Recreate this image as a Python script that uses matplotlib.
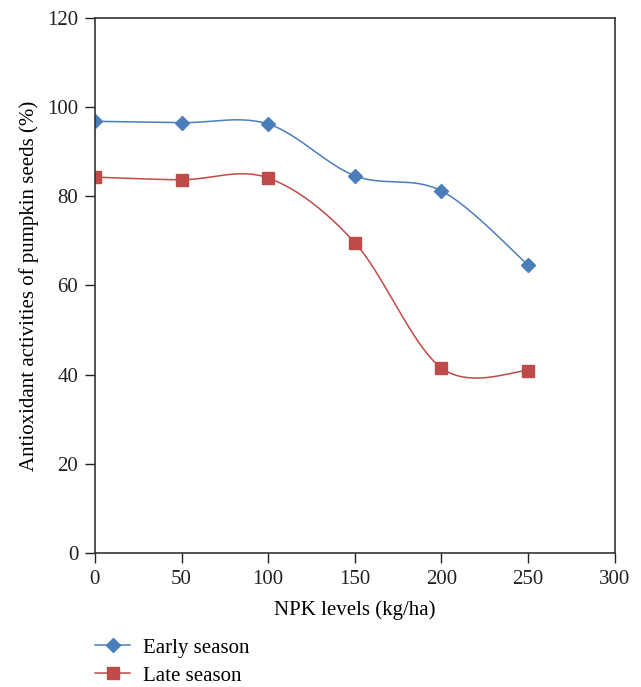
import numpy as np
import matplotlib.pyplot as plt
from matplotlib.lines import Line2D

npk = [0, 50, 100, 150, 200, 250]
early = [96.8, 96.5, 96.2, 84.6, 81.2, 64.6]
late = [84.3, 83.7, 84.1, 69.6, 41.5, 40.9]

plt.rcParams['font.family'] = ['Liberation Serif', 'DejaVu Serif']


def smooth(xs, ys, n=40):
    # excel style smoothing (catmull-rom, bezier control points at 1/6)
    xs = np.asarray(xs, float)
    ys = np.asarray(ys, float)
    px = np.concatenate([[xs[0]], xs, [xs[-1]]])
    py = np.concatenate([[ys[0]], ys, [ys[-1]]])
    outx, outy = [], []
    t = np.linspace(0, 1, n)
    for i in range(1, len(px) - 2):
        p0 = np.array([px[i], py[i]])
        p3 = np.array([px[i + 1], py[i + 1]])
        c1 = p0 + (p3 - np.array([px[i - 1], py[i - 1]])) / 6
        c2 = p3 - (np.array([px[i + 2], py[i + 2]]) - p0) / 6
        b = ((1 - t) ** 3)[:, None] * p0 + (3 * (1 - t) ** 2 * t)[:, None] * c1 \
            + (3 * (1 - t) * t ** 2)[:, None] * c2 + (t ** 3)[:, None] * p3
        outx.extend(b[:, 0])
        outy.extend(b[:, 1])
    return outx, outy


fig = plt.figure(figsize=(6.41, 6.87), dpi=100)
ax = fig.add_axes([0.148, 0.195, 0.811, 0.779])

blue = '#4a7ebb'
red = '#be4b48'

sx, sy = smooth(npk, early)
ax.plot(sx, sy, color=blue, lw=1.1)
ax.plot(npk, early, ls='none', marker='D', ms=7.5, color=blue)
sx, sy = smooth(npk, late)
ax.plot(sx, sy, color=red, lw=1.1)
ax.plot(npk, late, ls='none', marker='s', ms=8, color=red)

ax.set_xlim(0, 300)
ax.set_ylim(0, 120)
ax.set_xticks(range(0, 301, 50))
ax.set_yticks(range(0, 121, 20))
ax.tick_params(direction='out', length=7, width=1, labelsize=15, colors='#222222', pad=5)
for s in ax.spines.values():
    s.set_color('#333333')
    s.set_linewidth(1.2)
ax.set_xlabel('NPK levels (kg/ha)', fontsize=15, labelpad=8)
ax.set_ylabel('Antioxidant activities of pumpkin seeds (%)', fontsize=15, labelpad=6)

# legend below the plot
handles = [Line2D([], [], color=blue, marker='D', ms=7, lw=1.1),
           Line2D([], [], color=red, marker='s', ms=8, lw=1.1)]
fig.legend(handles, ['Early season', 'Late season'], loc='lower left',
           bbox_to_anchor=(0.148, 0.002), frameon=False, fontsize=15,
           handlelength=1.7, labelspacing=0.4, handletextpad=0.6,
           borderpad=0, borderaxespad=0)

fig.savefig('out.png', dpi=100)
